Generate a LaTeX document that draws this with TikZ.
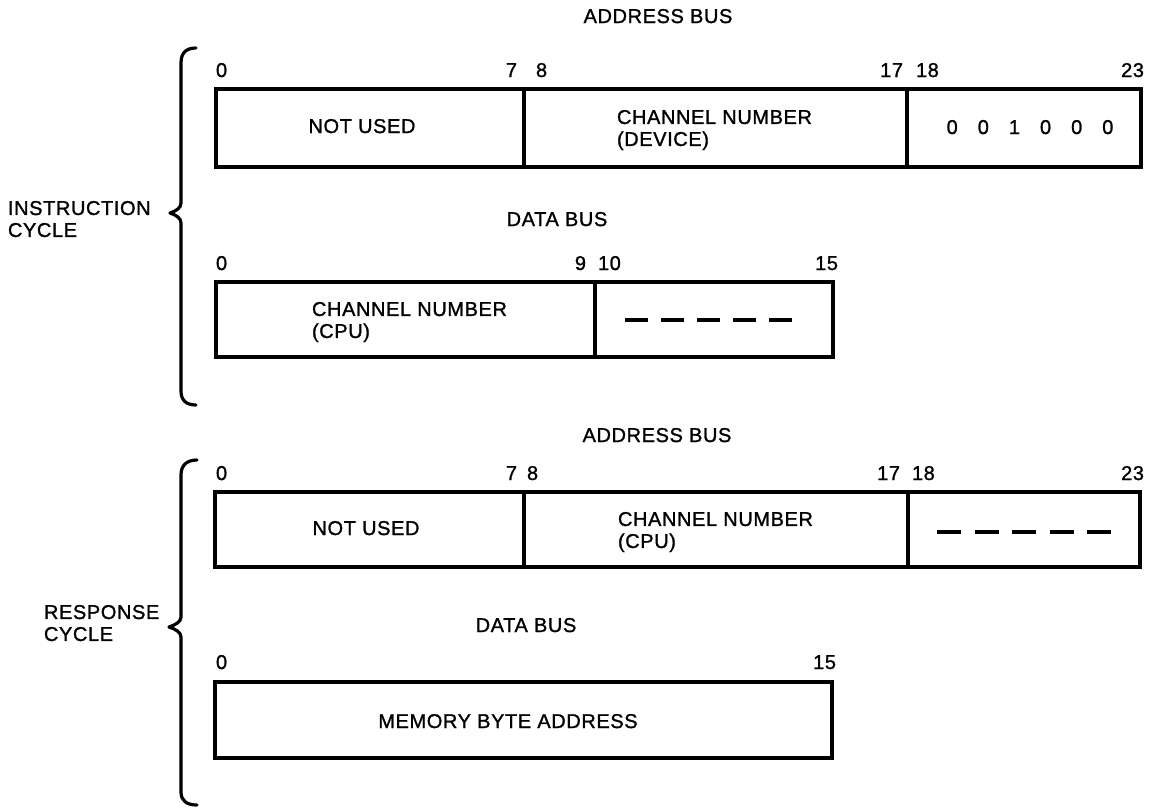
\documentclass[tikz,border=0pt]{standalone}
\usepackage{fontspec}
\setmainfont{Liberation Sans}[LetterSpace=3, FakeBold=1.2]
\begin{document}
\begin{tikzpicture}[x=1pt,y=-1pt,
  field/.style={draw, line width=3.4pt, inner sep=0pt, outer sep=0pt, anchor=north west},
  lbl/.style={inner sep=0pt, outer sep=0pt, font=\fontsize{20}{22}\selectfont},
  twoline/.style={lbl, anchor=north west, align=left},
  dashrule/.style={line width=3.4pt, dash pattern=on 23pt off 13pt},
  bracepath/.style={line width=3.2pt, line cap=round, line join=round}]
\useasboundingbox[fill=white] (0,0) rectangle (1150,807);

% ---------------- instruction cycle ----------------
\node[lbl, anchor=base] (addr1) at (658,23) {ADDRESS BUS};

\node[lbl, anchor=base west] (ia0)  at (216,77)  {0};
\node[lbl, anchor=base east] (ia7)  at (517,77)  {7};
\node[lbl, anchor=base west] (ia8)  at (536,77)  {8};
\node[lbl, anchor=base east] (ia17) at (903,77)  {17};
\node[lbl, anchor=base west] (ia18) at (916,77)  {18};
\node[lbl, anchor=base east] (ia23) at (1144,77) {23};

\node[field, minimum width=308pt, minimum height=78pt] (iaf1) at (216,89) {};
\node[field, minimum width=383pt, minimum height=78pt] (iaf2) at (524,89) {};
\node[field, minimum width=234pt, minimum height=78pt] (iaf3) at (907,89) {};

\node[lbl, anchor=base] (iat1) at (362,133) {NOT USED};
\node[twoline] (iat2) at (617,110) {CHANNEL NUMBER\\(DEVICE)};
\node[lbl, anchor=base] (iat3) at (1030,134)
  {0\hspace{20pt}0\hspace{20pt}1\hspace{20pt}0\hspace{20pt}0\hspace{20pt}0};

\node[twoline] (icyc) at (8,201) {INSTRUCTION\\CYCLE};

\node[lbl, anchor=base] (data1) at (557,226) {DATA BUS};

\node[lbl, anchor=base west] (id0)  at (216,270) {0};
\node[lbl, anchor=base east] (id9)  at (586,270) {9};
\node[lbl, anchor=base west] (id10) at (598,270) {10};
\node[lbl, anchor=base east] (id15) at (838,270) {15};

\node[field, minimum width=379pt, minimum height=75pt] (idf1) at (216,282) {};
\node[field, minimum width=238pt, minimum height=75pt] (idf2) at (595,282) {};

\node[twoline] (idt1) at (312,302) {CHANNEL NUMBER\\(CPU)};
\coordinate (idd-s) at (625,320);
\coordinate (idd-e) at (792,320);
\draw[dashrule] (idd-s) -- (idd-e);

% brace for the instruction cycle
\draw[bracepath] (196,48) .. controls (186,48) and (181,53) .. (181,63)
  -- (181,203) .. controls (181,208) and (176,211) .. (170,213)
  .. controls (176,215) and (181,218) .. (181,223)
  -- (181,391) .. controls (181,400) and (186,405) .. (196,405);

% ---------------- response cycle ----------------
\node[lbl, anchor=base] (addr2) at (657,442) {ADDRESS BUS};

\node[lbl, anchor=base west] (ra0)  at (216,480)  {0};
\node[lbl, anchor=base east] (ra7)  at (517,480)  {7};
\node[lbl, anchor=base west] (ra8)  at (527,480)  {8};
\node[lbl, anchor=base east] (ra17) at (900,480)  {17};
\node[lbl, anchor=base west] (ra18) at (912,480)  {18};
\node[lbl, anchor=base east] (ra23) at (1144,480) {23};

\node[field, minimum width=309pt, minimum height=75pt] (raf1) at (215,492) {};
\node[field, minimum width=384pt, minimum height=75pt] (raf2) at (524,492) {};
\node[field, minimum width=232pt, minimum height=75pt] (raf3) at (908,492) {};

\node[lbl, anchor=base] (rat1) at (366,535) {NOT USED};
\node[twoline] (rat2) at (618,512) {CHANNEL NUMBER\\(CPU)};
\coordinate (rad-s) at (937,532);
\coordinate (rad-e) at (1111,532);
\draw[dashrule, dash pattern=on 24pt off 13.5pt] (rad-s) -- (rad-e);

\node[twoline] (rcyc) at (44,605) {RESPONSE\\CYCLE};

\node[lbl, anchor=base] (data2) at (526,632) {DATA BUS};

\node[lbl, anchor=base west] (rd0)  at (216,669) {0};
\node[lbl, anchor=base east] (rd15) at (836,669) {15};

\node[field, minimum width=617pt, minimum height=76pt] (rdf1) at (215,682) {};
\node[lbl, anchor=base] (rdt1) at (508,728) {MEMORY BYTE ADDRESS};

% brace for the response cycle
\draw[bracepath] (197,460) .. controls (187,460) and (181,465) .. (181,475)
  -- (181,617) .. controls (181,622) and (175,625) .. (169,627)
  .. controls (175,629) and (181,632) .. (181,637)
  -- (181,792) .. controls (181,801) and (187,805) .. (197,805);
\end{tikzpicture}
\end{document}
